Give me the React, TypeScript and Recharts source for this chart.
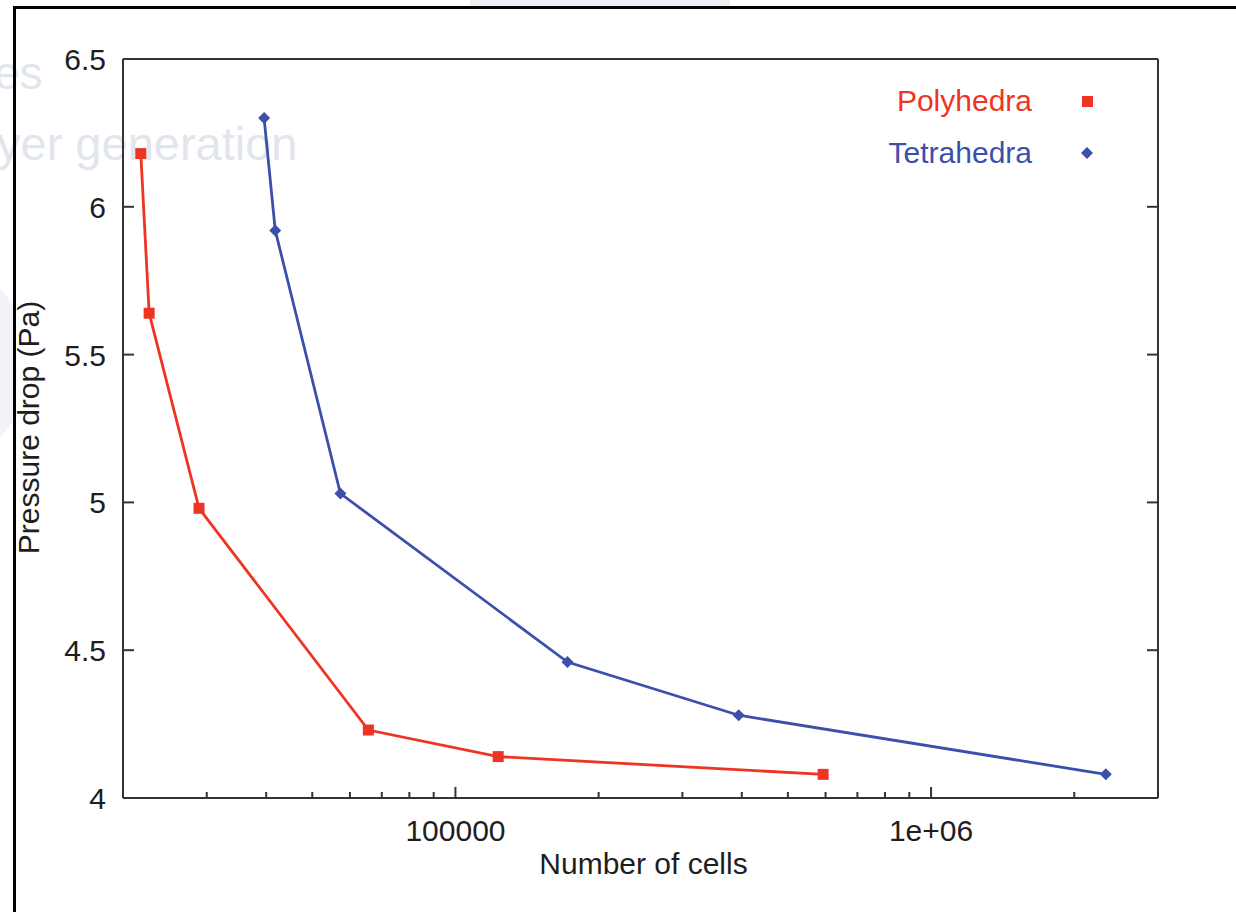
import React from "react";
import { LineChart, Line, XAxis, YAxis, Legend } from "recharts";

// cells vs pressure drop
const polyCells = [21800, 22700, 28900, 65600, 123000, 593000];
const polyDrop = [6.18, 5.64, 4.98, 4.23, 4.14, 4.08];
const tetraCells = [39600, 41800, 57300, 172000, 394000, 2330000];
const tetraDrop = [6.3, 5.92, 5.03, 4.46, 4.28, 4.08];

const xTicks = [
  20000, 30000, 40000, 50000, 60000, 70000, 80000, 90000, 100000,
  200000, 300000, 400000, 500000, 600000, 700000, 800000, 900000, 1000000,
  2000000,
];
const xMajor = [100000, 1000000];
const xLabels: Record<number, string> = { 100000: "100000", 1000000: "1e+06" };
const yTicks = [4, 4.5, 5, 5.5, 6, 6.5];

const RED = "#ee3524";
const BLUE = "#3b4fab";
const AXIS = "#333";
const FONT = "'Liberation Sans', Arial, Helvetica, sans-serif";

const polyData = polyCells.map((x, i) => ({ x, y: polyDrop[i] }));
const tetraData = tetraCells.map((x, i) => ({ x, y: tetraDrop[i] }));

const tickText = { fontFamily: FONT, fontSize: 30, fill: "#1e1e1e" };

function BottomTick(props: any) {
  const { x, y, payload } = props;
  const major = xMajor.includes(payload.value);
  return (
    <g>
      <line x1={x} y1={y} x2={x} y2={y - (major ? 11 : 6)} stroke={AXIS} strokeWidth={2} />
      {major && (
        <text x={x} y={y + 43} textAnchor="middle" {...tickText}>
          {xLabels[payload.value]}
        </text>
      )}
    </g>
  );
}

function TopTick(props: any) {
  const { x, y, payload } = props;
  const major = xMajor.includes(payload.value);
  return <line x1={x} y1={y} x2={x} y2={y + (major ? 11 : 6)} stroke={AXIS} strokeWidth={2} />;
}

function LeftTick(props: any) {
  const { x, y, payload } = props;
  return (
    <g>
      <line x1={x} y1={y} x2={x + 11} y2={y} stroke={AXIS} strokeWidth={2} />
      <text x={x - 17} y={y + 11} textAnchor="end" {...tickText}>
        {String(payload.value)}
      </text>
    </g>
  );
}

function RightTick(props: any) {
  const { x, y } = props;
  return <line x1={x} y1={y} x2={x - 11} y2={y} stroke={AXIS} strokeWidth={2} />;
}

function Square(props: any) {
  const { cx, cy } = props;
  if (cx == null || cy == null) return null;
  return <rect x={cx - 5.5} y={cy - 5.5} width={11} height={11} fill={RED} />;
}

function Diamond(props: any) {
  const { cx, cy } = props;
  if (cx == null || cy == null) return null;
  return <polygon points={`${cx},${cy - 6} ${cx + 6},${cy} ${cx},${cy + 6} ${cx - 6},${cy}`} fill={BLUE} />;
}

function LegendBox() {
  const rows = [
    { name: "Polyhedra", color: RED, shape: "square" },
    { name: "Tetrahedra", color: BLUE, shape: "diamond" },
  ];
  return (
    <div style={{ fontFamily: FONT, fontSize: 30 }}>
      {rows.map((r) => (
        <div key={r.name} style={{ display: "flex", alignItems: "center", height: 52 }}>
          <span style={{ width: 172, textAlign: "right", color: r.color }}>{r.name}</span>
          <svg width={112} height={20}>
            {r.shape === "square" ? (
              <rect x={50} y={5} width={11} height={11} fill={r.color} />
            ) : (
              <polygon points="55,4 61,10 55,16 49,10" fill={r.color} />
            )}
          </svg>
        </div>
      ))}
    </div>
  );
}

export default function App() {
  return (
    <div style={{ position: "absolute", left: 0, top: 0, width: 1236, height: 912, background: "#fff", overflow: "hidden" }}>
      {/* faded slide remnants behind the plot */}
      <div style={{ position: "absolute", left: 470, top: 0, width: 260, height: 6, background: "#eceff5" }} />
      <div style={{ position: "absolute", left: 0, top: 288, width: 14, height: 150, background: "#f1f3f8", clipPath: "polygon(0 0, 100% 12%, 100% 88%, 0 100%)" }} />
      <div style={{ position: "absolute", left: -6, top: 46, fontFamily: FONT, fontSize: 46, color: "#e1e6ee" }}>es</div>
      <div style={{ position: "absolute", left: -3, top: 116, fontFamily: FONT, fontSize: 47, color: "#e1e6ee", whiteSpace: "nowrap" }}>
        yer generation
      </div>
      <div style={{ position: "absolute", left: 13, top: 6, width: 1223, height: 3, background: "#000" }} />
      <div style={{ position: "absolute", left: 13, top: 6, width: 3, height: 906, background: "#000" }} />

      <div style={{ position: "absolute", left: 0, top: 0 }}>
        <LineChart width={1236} height={912} margin={{ top: 58, right: 77, bottom: 0, left: 0 }}>
          <XAxis
            xAxisId="bottom"
            dataKey="x"
            type="number"
            scale="log"
            domain={[20000, 3000000]}
            allowDataOverflow
            ticks={xTicks}
            interval={0}
            height={114}
            tickSize={0}
            tickMargin={0}
            tickLine={false}
            axisLine={{ stroke: AXIS, strokeWidth: 2 }}
            tick={<BottomTick />}
            label={{
              content: (p: any) => (
                <text
                  x={p.viewBox.x + p.viewBox.width / 2 + 3}
                  y={p.viewBox.y + 76}
                  textAnchor="middle"
                  {...tickText}
                >
                  Number of cells
                </text>
              ),
            }}
          />
          <XAxis
            xAxisId="top"
            orientation="top"
            type="number"
            scale="log"
            domain={[20000, 3000000]}
            allowDataOverflow
            ticks={xTicks}
            interval={0}
            height={1}
            tickSize={0}
            tickMargin={0}
            tickLine={false}
            axisLine={{ stroke: AXIS, strokeWidth: 2 }}
            tick={<TopTick />}
          />
          <YAxis
            yAxisId="left"
            type="number"
            domain={[4, 6.5]}
            allowDataOverflow
            ticks={yTicks}
            interval={0}
            width={123}
            tickSize={0}
            tickMargin={0}
            tickLine={false}
            axisLine={{ stroke: AXIS, strokeWidth: 2 }}
            tick={<LeftTick />}
            label={{
              content: (p: any) => {
                const cx = p.viewBox.x + p.viewBox.width - 84;
                const cy = p.viewBox.y + p.viewBox.height / 2 - 1;
                return (
                  <text x={cx} y={cy} textAnchor="middle" transform={`rotate(-90 ${cx} ${cy})`} {...tickText}>
                    Pressure drop (Pa)
                  </text>
                );
              },
            }}
          />
          <YAxis
            yAxisId="right"
            orientation="right"
            type="number"
            domain={[4, 6.5]}
            allowDataOverflow
            ticks={yTicks}
            interval={0}
            width={1}
            tickSize={0}
            tickMargin={0}
            tickLine={false}
            axisLine={{ stroke: AXIS, strokeWidth: 2 }}
            tick={<RightTick />}
          />
          <Legend
            layout="vertical"
            align="center"
            verticalAlign="middle"
            content={<LegendBox />}
            wrapperStyle={{ left: 860, top: 75, width: 290 }}
          />
          <Line
            xAxisId="bottom"
            yAxisId="left"
            data={polyData}
            dataKey="y"
            name="Polyhedra"
            stroke={RED}
            strokeWidth={2.8}
            dot={<Square />}
            activeDot={false}
            isAnimationActive={false}
          />
          <Line
            xAxisId="bottom"
            yAxisId="left"
            data={tetraData}
            dataKey="y"
            name="Tetrahedra"
            stroke={BLUE}
            strokeWidth={2.8}
            dot={<Diamond />}
            activeDot={false}
            isAnimationActive={false}
          />
        </LineChart>
      </div>
    </div>
  );
}
